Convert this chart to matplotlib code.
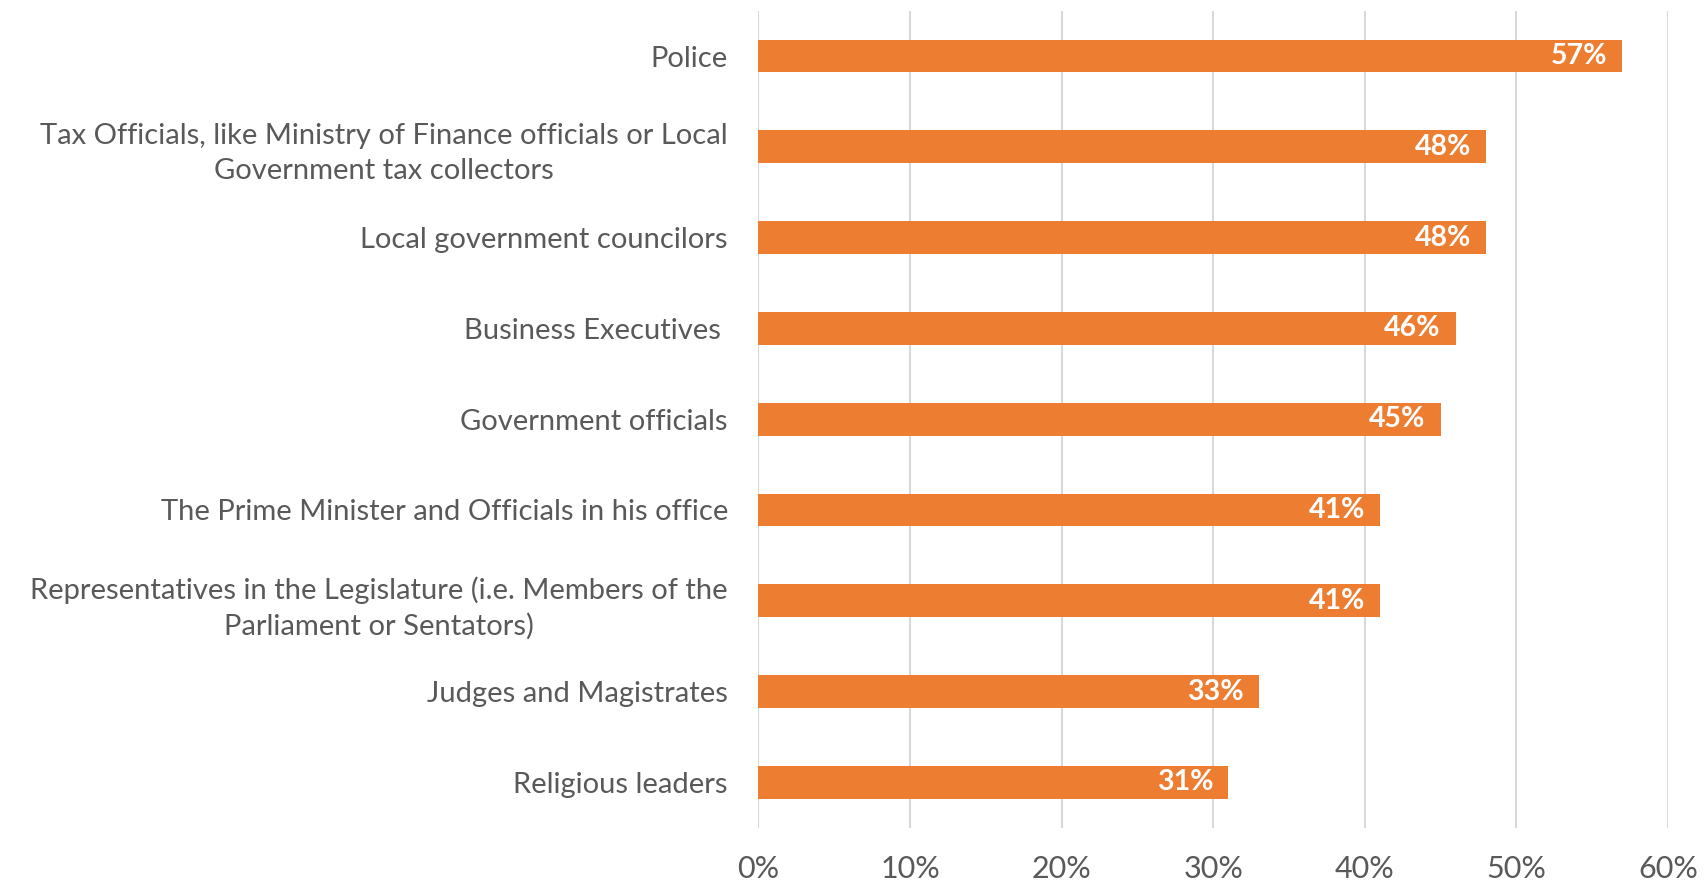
import matplotlib
matplotlib.use("Agg")
import matplotlib.pyplot as plt

# Share of respondents who think most/all in each group are involved in corruption
categories = [
    "Police",
    "Tax Officials, like Ministry of Finance officials or Local\nGovernment tax collectors",
    "Local government councilors",
    "Business Executives ",
    "Government officials",
    "The Prime Minister and Officials in his office",
    "Representatives in the Legislature (i.e. Members of the\nParliament or Sentators)",
    "Judges and Magistrates",
    "Religious leaders",
]
values = [57, 48, 48, 46, 45, 41, 41, 33, 31]
x_ticks = [0, 10, 20, 30, 40, 50, 60]

BAR = "#ED7D31"
TEXT = "#595959"
GRID = "#D9D9D9"

plt.rcParams["font.family"] = ["Lato", "DejaVu Sans"]

fig = plt.figure(figsize=(17.06, 8.81), dpi=100)
ax = fig.add_axes([0.4446, 0.0605, 0.9777 - 0.4446, 0.9879 - 0.0605])

ypos = list(range(len(categories)))
ax.barh(ypos, values, height=0.36, color=BAR, zorder=3)
for y, v in zip(ypos, values):
    ax.text(v - 1.0, y, f"{v}%", ha="right", va="center", color="white",
            fontsize=20.5, fontweight="bold", zorder=4)

ax.set_ylim(len(categories) - 0.5, -0.5)
ax.set_xlim(0, 60)
ax.set_yticks(ypos)
ax.set_yticklabels(categories, multialignment="center", linespacing=1.4)
ax.set_xticks(x_ticks)
ax.set_xticklabels([f"{t}%" for t in x_ticks])
ax.tick_params(axis="both", length=0, labelcolor=TEXT)
ax.tick_params(axis="y", labelsize=21, pad=22)
ax.tick_params(axis="x", labelsize=22, pad=20)

ax.xaxis.grid(True, color=GRID, linewidth=1.5, zorder=0)
ax.set_axisbelow(True)
for s in ax.spines.values():
    s.set_visible(False)

fig.savefig("out.png", dpi=100)
